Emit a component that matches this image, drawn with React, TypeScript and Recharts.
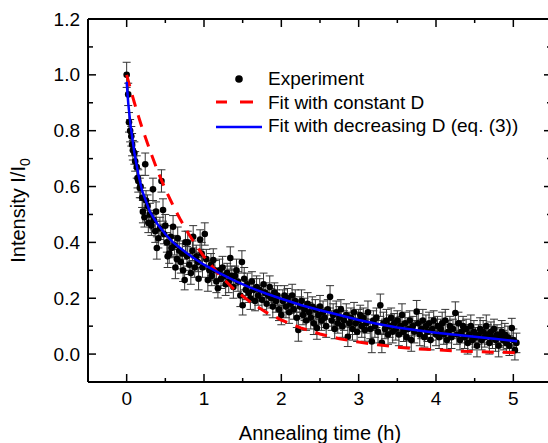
import React from "react";
import { ComposedChart, Scatter, XAxis, YAxis, ErrorBar, Legend } from "recharts";

const FONT = "'Liberation Sans', Arial, sans-serif";

// [annealing time (h), I/I0, error]
const experimentPoints: [number, number, number][] = [
  [0.0, 1.0, 0.045], [0.02, 0.93, 0.04], [0.03, 0.83, 0.035], [0.045, 0.8, 0.04], [0.06, 0.78, 0.035],
  [0.07, 0.75, 0.04], [0.08, 0.73, 0.035], [0.1, 0.72, 0.04], [0.11, 0.69, 0.035], [0.13, 0.67, 0.04],
  [0.14, 0.63, 0.035], [0.15, 0.62, 0.04], [0.17, 0.595, 0.035], [0.18, 0.6, 0.04], [0.2, 0.56, 0.035],
  [0.21, 0.51, 0.04], [0.23, 0.49, 0.035], [0.24, 0.68, 0.04], [0.25, 0.55, 0.035], [0.27, 0.53, 0.04],
  [0.28, 0.47, 0.035], [0.3, 0.5, 0.04], [0.32, 0.46, 0.035], [0.34, 0.59, 0.04], [0.35, 0.48, 0.035],
  [0.37, 0.44, 0.04], [0.38, 0.51, 0.035], [0.39, 0.38, 0.04], [0.41, 0.415, 0.035], [0.43, 0.45, 0.04],
  [0.45, 0.62, 0.04], [0.47, 0.516, 0.04], [0.48, 0.43, 0.035], [0.5, 0.46, 0.04], [0.52, 0.4, 0.035],
  [0.53, 0.35, 0.04], [0.55, 0.36, 0.035], [0.57, 0.42, 0.04], [0.58, 0.38, 0.035], [0.6, 0.456, 0.04],
  [0.62, 0.39, 0.035], [0.63, 0.31, 0.04], [0.65, 0.34, 0.035], [0.66, 0.415, 0.04], [0.68, 0.37, 0.035],
  [0.7, 0.33, 0.04], [0.72, 0.36, 0.035], [0.73, 0.3, 0.04], [0.75, 0.265, 0.035], [0.76, 0.4, 0.04],
  [0.78, 0.35, 0.035], [0.79, 0.4, 0.04], [0.81, 0.32, 0.035], [0.83, 0.29, 0.04], [0.85, 0.37, 0.035],
  [0.86, 0.42, 0.04], [0.88, 0.31, 0.035], [0.9, 0.35, 0.04], [0.92, 0.33, 0.035], [0.93, 0.27, 0.04],
  [0.95, 0.41, 0.035], [0.97, 0.36, 0.04], [0.98, 0.31, 0.035], [1.01, 0.43, 0.04], [1.03, 0.34, 0.035],
  [1.05, 0.265, 0.04], [1.07, 0.3, 0.035], [1.09, 0.32, 0.04], [1.1, 0.28, 0.035], [1.12, 0.337, 0.04],
  [1.14, 0.3, 0.035], [1.16, 0.26, 0.04], [1.18, 0.236, 0.035], [1.2, 0.3, 0.04], [1.22, 0.27, 0.035],
  [1.24, 0.31, 0.04], [1.26, 0.28, 0.035], [1.28, 0.25, 0.04], [1.3, 0.29, 0.035], [1.32, 0.26, 0.04],
  [1.34, 0.344, 0.04], [1.36, 0.28, 0.035], [1.38, 0.24, 0.04], [1.4, 0.28, 0.035], [1.42, 0.3, 0.04],
  [1.44, 0.26, 0.035], [1.47, 0.21, 0.04], [1.49, 0.33, 0.04], [1.5, 0.175, 0.035], [1.52, 0.27, 0.04],
  [1.54, 0.23, 0.035], [1.56, 0.25, 0.04], [1.58, 0.22, 0.035], [1.6, 0.2, 0.04], [1.62, 0.26, 0.035],
  [1.64, 0.23, 0.04], [1.66, 0.19, 0.035], [1.68, 0.24, 0.04], [1.7, 0.21, 0.035], [1.72, 0.23, 0.04],
  [1.75, 0.195, 0.035], [1.77, 0.25, 0.04], [1.79, 0.22, 0.035], [1.81, 0.18, 0.04], [1.83, 0.21, 0.035],
  [1.85, 0.24, 0.04], [1.87, 0.2, 0.035], [1.89, 0.17, 0.04], [1.91, 0.22, 0.035], [1.93, 0.19, 0.04],
  [1.95, 0.21, 0.035], [1.97, 0.16, 0.04], [2.0, 0.14, 0.035], [2.02, 0.19, 0.04], [2.04, 0.21, 0.035],
  [2.06, 0.17, 0.04], [2.08, 0.2, 0.035], [2.1, 0.15, 0.04], [2.12, 0.18, 0.035], [2.14, 0.21, 0.04],
  [2.16, 0.16, 0.035], [2.18, 0.19, 0.04], [2.2, 0.13, 0.035], [2.22, 0.086, 0.04], [2.24, 0.17, 0.035],
  [2.26, 0.19, 0.04], [2.28, 0.14, 0.035], [2.3, 0.16, 0.04], [2.32, 0.12, 0.035], [2.34, 0.18, 0.04],
  [2.36, 0.15, 0.035], [2.38, 0.13, 0.04], [2.4, 0.17, 0.035], [2.42, 0.11, 0.04], [2.44, 0.16, 0.035],
  [2.46, 0.093, 0.04], [2.48, 0.14, 0.035], [2.5, 0.17, 0.04], [2.52, 0.12, 0.035], [2.54, 0.15, 0.04],
  [2.56, 0.13, 0.035], [2.58, 0.1, 0.04], [2.6, 0.16, 0.035], [2.63, 0.205, 0.04], [2.65, 0.12, 0.035],
  [2.67, 0.14, 0.04], [2.69, 0.09, 0.035], [2.71, 0.15, 0.04], [2.73, 0.11, 0.035], [2.75, 0.13, 0.04],
  [2.77, 0.16, 0.035], [2.79, 0.1, 0.04], [2.81, 0.12, 0.035], [2.84, 0.14, 0.04], [2.86, 0.062, 0.035],
  [2.88, 0.11, 0.04], [2.9, 0.13, 0.035], [2.92, 0.09, 0.04], [2.94, 0.15, 0.035], [2.96, 0.11, 0.04],
  [2.98, 0.08, 0.035], [3.0, 0.12, 0.04], [3.02, 0.14, 0.035], [3.04, 0.1, 0.04], [3.06, 0.13, 0.035],
  [3.08, 0.086, 0.04], [3.1, 0.11, 0.035], [3.12, 0.15, 0.04], [3.15, 0.09, 0.035], [3.17, 0.045, 0.04],
  [3.19, 0.12, 0.035], [3.21, 0.1, 0.04], [3.23, 0.13, 0.035], [3.25, 0.08, 0.04], [3.28, 0.175, 0.04],
  [3.3, 0.04, 0.035], [3.32, 0.11, 0.04], [3.34, 0.09, 0.035], [3.36, 0.12, 0.04], [3.38, 0.07, 0.035],
  [3.4, 0.1, 0.04], [3.42, 0.13, 0.035], [3.44, 0.08, 0.04], [3.46, 0.11, 0.035], [3.48, 0.09, 0.04],
  [3.5, 0.12, 0.035], [3.52, 0.07, 0.04], [3.54, 0.1, 0.035], [3.56, 0.14, 0.04], [3.58, 0.08, 0.035],
  [3.6, 0.11, 0.04], [3.62, 0.06, 0.035], [3.64, 0.09, 0.04], [3.66, 0.12, 0.035], [3.68, 0.05, 0.04],
  [3.7, 0.1, 0.035], [3.72, 0.08, 0.04], [3.75, 0.152, 0.04], [3.77, 0.11, 0.035], [3.79, 0.07, 0.04],
  [3.81, 0.09, 0.035], [3.83, 0.12, 0.04], [3.85, 0.06, 0.035], [3.87, 0.1, 0.04], [3.89, 0.08, 0.035],
  [3.91, 0.11, 0.04], [3.93, 0.05, 0.035], [3.95, 0.09, 0.04], [3.97, 0.12, 0.035], [4.0, 0.07, 0.04],
  [4.02, 0.1, 0.035], [4.04, 0.06, 0.04], [4.06, 0.09, 0.035], [4.08, 0.11, 0.04], [4.1, 0.07, 0.035],
  [4.12, 0.12, 0.04], [4.14, 0.05, 0.035], [4.16, 0.08, 0.04], [4.18, 0.1, 0.035], [4.2, 0.06, 0.04],
  [4.22, 0.09, 0.035], [4.25, 0.147, 0.04], [4.27, 0.07, 0.035], [4.29, 0.11, 0.04], [4.31, 0.05, 0.035],
  [4.33, 0.08, 0.04], [4.35, 0.1, 0.035], [4.37, 0.06, 0.04], [4.39, 0.09, 0.035], [4.41, 0.04, 0.04],
  [4.43, 0.07, 0.035], [4.45, 0.1, 0.04], [4.47, 0.05, 0.035], [4.49, 0.08, 0.04], [4.51, 0.06, 0.035],
  [4.53, 0.03, 0.04], [4.55, 0.07, 0.035], [4.57, 0.09, 0.04], [4.59, 0.05, 0.035], [4.61, 0.08, 0.04],
  [4.63, 0.06, 0.035], [4.65, 0.1, 0.04], [4.67, 0.07, 0.035], [4.69, 0.04, 0.04], [4.71, 0.08, 0.035],
  [4.73, 0.06, 0.04], [4.75, 0.09, 0.035], [4.77, 0.05, 0.04], [4.79, 0.07, 0.035], [4.81, 0.03, 0.04],
  [4.83, 0.06, 0.035], [4.85, 0.08, 0.04], [4.87, 0.05, 0.035], [4.89, 0.07, 0.04], [4.91, 0.04, 0.035],
  [4.93, 0.06, 0.04], [4.95, 0.03, 0.035], [4.98, 0.093, 0.035], [5.0, 0.05, 0.04], [5.02, 0.014, 0.035],
  [5.04, 0.04, 0.035],
];

const fitTimes = [0, 0.02, 0.05, 0.1, 0.15, 0.2, 0.3, 0.4, 0.5, 0.6, 0.7, 0.8, 0.9, 1.0, 1.2, 1.4, 1.6, 1.8, 2.0, 2.25, 2.5, 2.75, 3.0, 3.25, 3.5, 3.75, 4.0, 4.25, 4.5, 4.75, 5.05];
const fitConstantD = [1.0, 0.979, 0.949, 0.9, 0.854, 0.81, 0.73, 0.656, 0.59, 0.532, 0.479, 0.431, 0.388, 0.349, 0.283, 0.229, 0.186, 0.15, 0.122, 0.094, 0.072, 0.055, 0.043, 0.033, 0.025, 0.019, 0.015, 0.011, 0.0088, 0.0068, 0.005];
const fitDecreasingD = [0.975, 0.9, 0.82, 0.72, 0.645, 0.585, 0.51, 0.465, 0.43, 0.4, 0.378, 0.357, 0.338, 0.32, 0.29, 0.262, 0.238, 0.217, 0.198, 0.176, 0.157, 0.14, 0.122, 0.108, 0.095, 0.085, 0.076, 0.069, 0.062, 0.055, 0.046];

const xTicks = [0, 0.5, 1, 1.5, 2, 2.5, 3, 3.5, 4, 4.5, 5];
const yTicks = [0, 0.1, 0.2, 0.3, 0.4, 0.5, 0.6, 0.7, 0.8, 0.9, 1.0, 1.1, 1.2];

const expData = experimentPoints.map(([t, y, err]) => ({ t, y, err }));
const constData = fitTimes.map((t, i) => ({ t, y: fitConstantD[i] }));
const decData = fitTimes.map((t, i) => ({ t, y: fitDecreasingD[i] }));

const isMajorX = (v: number) => Math.abs(v - Math.round(v)) < 1e-6;
const isMajorY = (v: number) => Math.abs(v * 5 - Math.round(v * 5)) < 1e-6;

function BottomTick({ x, y, payload }: any) {
  const v = payload.value;
  const major = isMajorX(v);
  return (
    <g>
      <line x1={x} x2={x} y1={y} y2={y - (major ? 8 : 4)} stroke="#000" strokeWidth={1.5} />
      {major && (
        <text x={x} y={y + 23} textAnchor="middle" fontSize={19} fontFamily={FONT} fill="#000">{v}</text>
      )}
    </g>
  );
}

function TopTick({ x, y, payload }: any) {
  const major = isMajorX(payload.value);
  return <line x1={x} x2={x} y1={y} y2={y + (major ? 8 : 4)} stroke="#000" strokeWidth={1.5} />;
}

function LeftTick({ x, y, payload }: any) {
  const v = payload.value;
  const major = isMajorY(v);
  return (
    <g>
      <line x1={x} x2={x + (major ? 8 : 5)} y1={y} y2={y} stroke="#000" strokeWidth={1.5} />
      {major && (
        <text x={x - 8} y={y + 6.5} textAnchor="end" fontSize={19} fontFamily={FONT} fill="#000">{v.toFixed(1)}</text>
      )}
    </g>
  );
}

function RightTick({ x, y, payload }: any) {
  const major = isMajorY(payload.value);
  return <line x1={x} x2={x - (major ? 8 : 5)} y1={y} y2={y} stroke="#000" strokeWidth={1.5} />;
}

function XTitle({ viewBox }: any) {
  return (
    <text x={viewBox.x + viewBox.width / 2} y={viewBox.y + 58} textAnchor="middle" fontSize={20} fontFamily={FONT} fill="#000">
      Annealing time (h)
    </text>
  );
}

function YTitle({ viewBox }: any) {
  const cx = viewBox.x + viewBox.width - 63;
  const cy = viewBox.y + viewBox.height / 2 + 10;
  return (
    <text x={cx} y={cy} transform={`rotate(-90 ${cx} ${cy})`} textAnchor="middle" fontSize={20} fontFamily={FONT} fill="#000">
      Intensity I/I<tspan fontSize={14} dy={5}>0</tspan>
    </text>
  );
}

function LegendBox() {
  const txt = { fontSize: 19, fontFamily: FONT, fill: "#000" };
  return (
    <svg width={340} height={80} style={{ display: "block", overflow: "visible" }}>
      <circle cx={39} cy={19} r={3.8} fill="#000" />
      <text x={68} y={25} {...txt}>Experiment</text>
      <line x1={16} x2={27} y1={42} y2={42} stroke="#ff0000" strokeWidth={3} />
      <line x1={40} x2={53} y1={42} y2={42} stroke="#ff0000" strokeWidth={3} />
      <text x={68} y={49} {...txt}>Fit with constant D</text>
      <line x1={16} x2={62} y1={67} y2={67} stroke="#0000ff" strokeWidth={2.5} />
      <text x={68} y={72} {...txt}>Fit with decreasing D (eq. (3))</text>
    </svg>
  );
}

const Dot = (p: any) => <circle cx={p.cx} cy={p.cy} r={3.3} fill="#000" />;
const NoDot = () => <g />;

export default function App() {
  const axisLine = { stroke: "#000", strokeWidth: 2 };
  return (
    <div style={{ position: "absolute", left: 0, top: 0, width: 548, height: 443, overflow: "hidden", background: "#fff" }}>
      <ComposedChart width={560} height={443} margin={{ top: 18, right: 7, bottom: 60, left: 87 }}>
        <XAxis type="number" dataKey="t" domain={[-0.5, 5.5]} ticks={xTicks} interval={0} allowDataOverflow
          height={1} tickSize={0} tickMargin={0} tickLine={false} axisLine={axisLine} tick={<BottomTick />}
          label={{ content: XTitle }} />
        <XAxis xAxisId="top" orientation="top" type="number" dataKey="t" domain={[-0.5, 5.5]} ticks={xTicks} interval={0}
          allowDataOverflow height={1} tickSize={0} tickMargin={0} tickLine={false} axisLine={axisLine} tick={<TopTick />} />
        <YAxis type="number" domain={[-0.1, 1.2]} ticks={yTicks} interval={0} allowDataOverflow width={1}
          tickSize={0} tickMargin={0} tickLine={false} axisLine={axisLine} tick={<LeftTick />}
          label={{ content: YTitle }} />
        <YAxis yAxisId="right" orientation="right" type="number" domain={[-0.1, 1.2]} ticks={yTicks} interval={0}
          allowDataOverflow width={1} tickSize={0} tickMargin={0} tickLine={false} axisLine={axisLine} tick={<RightTick />} />
        <Scatter data={expData} dataKey="y" shape={Dot} isAnimationActive={false}>
          <ErrorBar dataKey="err" direction="y" width={4} stroke="#333" strokeWidth={1} isAnimationActive={false} />
        </Scatter>
        <Scatter data={constData} dataKey="y" shape={NoDot} fill="#ff0000" isAnimationActive={false}
          line={{ stroke: "#ff0000", strokeWidth: 3, strokeDasharray: "12 9", fill: "none" }} />
        <Scatter data={decData} dataKey="y" shape={NoDot} fill="#0000ff" isAnimationActive={false}
          line={{ stroke: "#0000ff", strokeWidth: 2.5, fill: "none" }} />
        <Legend layout="vertical" align="center" verticalAlign="middle" content={<LegendBox />}
          wrapperStyle={{ left: 200, top: 60, width: 340, height: 80 }} />
      </ComposedChart>
    </div>
  );
}
